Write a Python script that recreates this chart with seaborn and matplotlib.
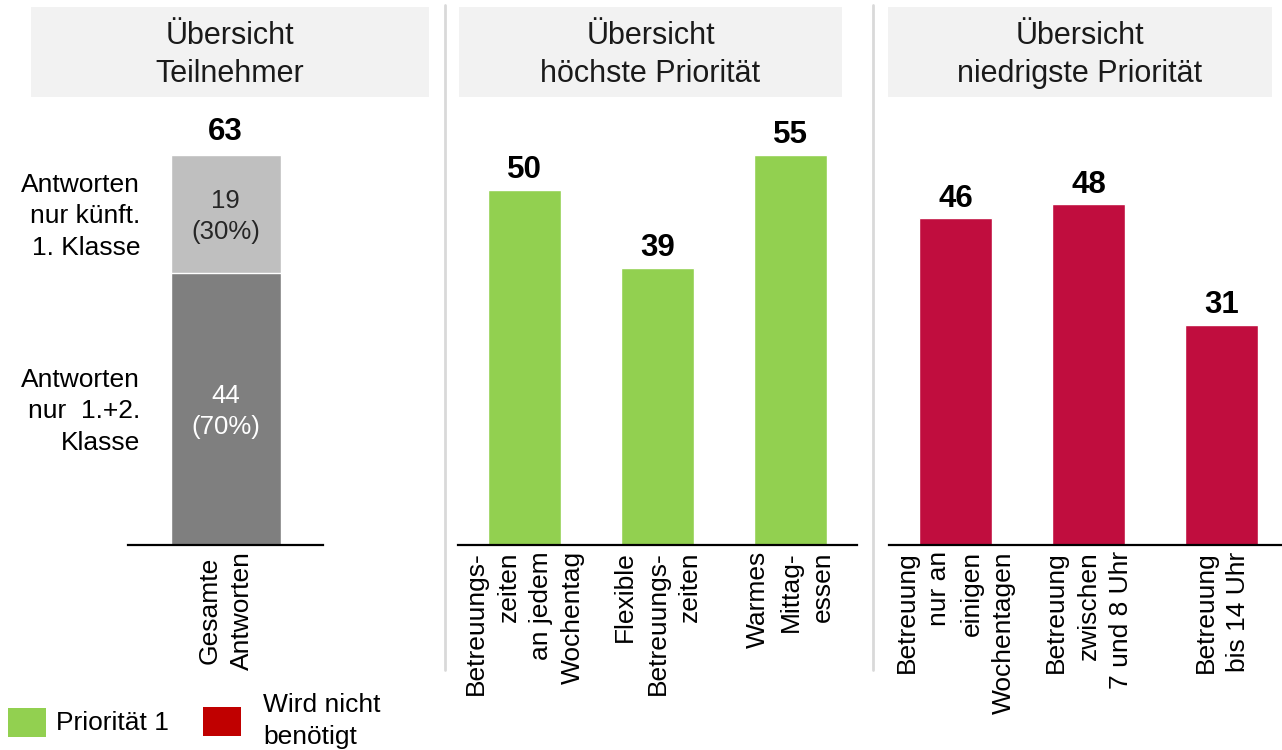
import matplotlib
matplotlib.use("Agg")
import matplotlib.pyplot as plt
import seaborn as sns
import pandas as pd
from matplotlib.patches import Rectangle
from matplotlib.lines import Line2D

sns.set_style("white")
plt.rcParams['font.family'] = ['Liberation Sans', 'DejaVu Sans']
plt.rcParams['text.color'] = 'black'
plt.rcParams['xtick.color'] = 'black'

# ---------------- data ----------------
p1_category = ["Gesamte\nAntworten"]
p1_total = [63]
p1_lower = [44]
p1_upper = [19]
p1_lower_label = "44\n(70%)"
p1_upper_label = "19\n(30%)"
p1_side_upper = "Antworten\nnur künft.\n1. Klasse"
p1_side_lower = "Antworten\nnur  1.+2.\nKlasse"

p2_categories = ["Betreuungs-\nzeiten\nan jedem\nWochentag",
                 "Flexible\nBetreuungs-\nzeiten",
                 "Warmes\nMittag-\nessen"]
p2_values = [50, 39, 55]

p3_categories = ["Betreuung\nnur an\neinigen\nWochentagen",
                 "Betreuung\nzwischen\n7 und 8 Uhr",
                 "Betreuung\nbis 14 Uhr"]
p3_values = [46, 48, 31]

titles = ["Übersicht\nTeilnehmer", "Übersicht\nhöchste Priorität", "Übersicht\nniedrigste Priorität"]
legend_labels = ["Priorität 1", "Wird nicht\nbenötigt"]

GREEN = "#92d050"
CRIMSON = "#c00d3e"
LEGEND_RED = "#c00000"
LIGHT = "#bfbfbf"
DARK = "#7f7f7f"
HEADER = "#f2f2f2"
SEP = "#d9d9d9"

W, H = 1282, 750
fig = plt.figure(figsize=(W / 100, H / 100), dpi=100)

def px_axes(x0, x1, ytop, ybot):
    return fig.add_axes([x0 / W, 1 - ybot / H, (x1 - x0) / W, (ybot - ytop) / H])

def fig_rect(x0, x1, ytop, ybot, color):
    fig.patches.append(Rectangle((x0 / W, 1 - ybot / H), (x1 - x0) / W, (ybot - ytop) / H,
                                 transform=fig.transFigure, facecolor=color, edgecolor='none', zorder=0))

# headers
headers = [(31, 429), (459, 842), (888, 1272)]
for (x0, x1), t in zip(headers, titles):
    fig_rect(x0, x1, 7, 97, HEADER)
    fig.text((x0 + x1) / 2 / W, 1 - 55 / H, t, ha='center', va='center', fontsize=22,
             color='#1a1a1a', linespacing=1.32)

# separators
for xs in (445, 873):
    fig.add_artist(Line2D([xs / W, xs / W], [1 - 5 / H, 1 - 670 / H], transform=fig.transFigure,
                          color=SEP, linewidth=2))

YTOP, YBOT = 110, 545
TICK_FS = 19

def style_axes(ax):
    sns.despine(ax=ax, left=True, top=True, right=True)
    ax.spines['bottom'].set_color('black')
    ax.spines['bottom'].set_linewidth(1.6)
    ax.set_yticks([])
    ax.set_xlabel("")
    ax.set_ylabel("")
    ax.tick_params(axis='x', length=0, pad=4.5)
    ax.set_facecolor('none')

# ---------- panel 1 ----------
ax1 = px_axes(128, 323, YTOP, YBOT)
df1 = pd.DataFrame({"cat": p1_category, "total": p1_total, "lower": p1_lower})
sns.barplot(data=df1, x="cat", y="total", color=LIGHT, width=0.55, ax=ax1, saturation=1)
sns.barplot(data=df1, x="cat", y="lower", color=DARK, width=0.55, ax=ax1, saturation=1)
ax1.set_xlim(-0.4875, 0.4875)
ax1.set_ylim(0, 435 / 6.19)
style_axes(ax1)
ax1.set_xticks([0])
ax1.set_xticklabels(p1_category, rotation=90, ha='center', va='top', fontsize=TICK_FS,
                    multialignment='center', linespacing=1.43)
ax1.text(0, p1_total[0] + 1.3, str(p1_total[0]), ha='center', va='bottom', fontsize=22.5,
         fontweight='bold')
up_y = p1_lower[0] + p1_upper[0] / 2 - 0.4
lo_y = p1_lower[0] / 2 - 0.4
ax1.text(0, up_y, p1_upper_label, ha='center', va='center',
         fontsize=18.5, color='#262626', linespacing=1.35)
ax1.text(0, lo_y, p1_lower_label, ha='center', va='center',
         fontsize=18.5, color='white', linespacing=1.35)
side_x = -0.4275
ax1.text(side_x, up_y, p1_side_upper, ha='right', va='center',
         fontsize=19, multialignment='right', linespacing=1.4, clip_on=False)
ax1.text(side_x, lo_y, p1_side_lower, ha='right', va='center',
         fontsize=19, multialignment='right', linespacing=1.4, clip_on=False)

# ---------- panel 2 & 3 ----------
def value_panel(x0, x1, cats, vals, color):
    ax = px_axes(x0, x1, YTOP, YBOT)
    df = pd.DataFrame({"cat": cats, "val": vals})
    sns.barplot(data=df, x="cat", y="val", color=color, width=0.55, ax=ax, saturation=1)
    ax.set_xlim(-0.5, 2.5)
    ax.set_ylim(0, 435 / 7.1)
    style_axes(ax)
    ax.set_xticks(range(len(cats)))
    ax.set_xticklabels(cats, rotation=90, ha='center', va='top', fontsize=TICK_FS,
                       multialignment='right', linespacing=1.43)
    for i, v in enumerate(vals):
        ax.text(i, v + 0.65, str(v), ha='center', va='bottom', fontsize=22.5, fontweight='bold')
    return ax

ax2 = value_panel(458, 857, p2_categories, p2_values, GREEN)
ax3 = value_panel(889, 1288, p3_categories, p3_values, CRIMSON)

# ---------- legend ----------
fig_rect(8, 46, 708, 737, GREEN)
fig.text(56 / W, 1 - 723 / H, legend_labels[0], ha='left', va='center', fontsize=19)
fig_rect(203, 241, 707, 736, LEGEND_RED)
fig.text(263 / W, 1 - 721 / H, legend_labels[1], ha='left', va='center', fontsize=19,
         linespacing=1.4)

fig.savefig("out.png", dpi=100)
